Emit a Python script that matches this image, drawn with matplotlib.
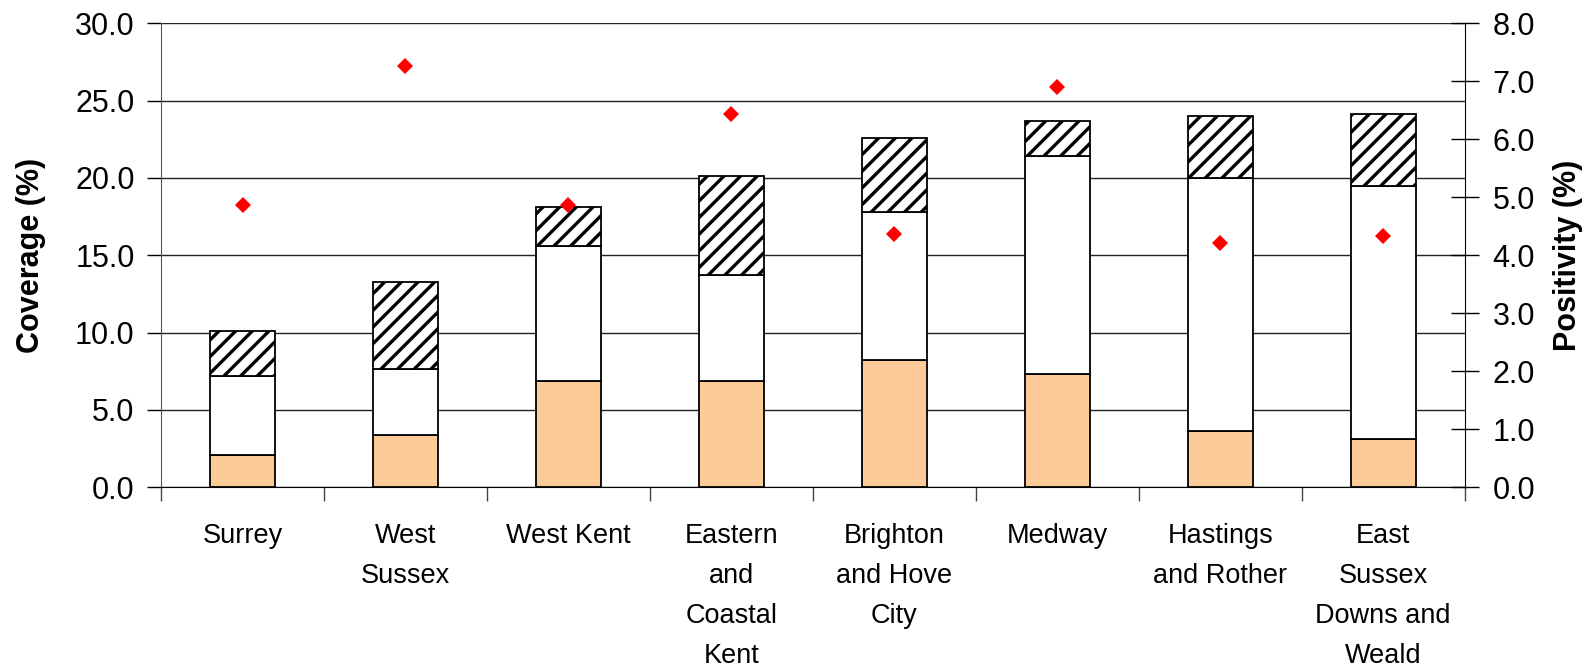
import matplotlib
matplotlib.use("Agg")
import matplotlib.pyplot as plt
import numpy as np

# ── Data ─────────────────────────────────────────────────────────────────────
categories = [
    "Surrey",
    "West\nSussex",
    "West Kent",
    "Eastern\nand\nCoastal\nKent",
    "Brighton\nand Hove\nCity",
    "Medway",
    "Hastings\nand Rother",
    "East\nSussex\nDowns and\nWeald",
]
# cumulative tops (coverage %)
orange_top = [2.1, 3.35, 6.9, 6.9, 8.2, 7.3, 3.65, 3.1]
white_top = [7.2, 7.65, 15.6, 13.7, 17.8, 21.45, 20.0, 19.5]
hatch_top = [10.1, 13.3, 18.15, 20.15, 22.6, 23.7, 24.0, 24.15]
positivity = [4.87, 7.26, 4.87, 6.44, 4.37, 6.91, 4.22, 4.34]

# ── Style ────────────────────────────────────────────────────────────────────
plt.rcParams["font.family"] = ["Liberation Sans", "DejaVu Sans"]
plt.rcParams["hatch.linewidth"] = 2.4
plt.rcParams["hatch.color"] = "black"

ORANGE = "#FDCB98"
EDGE_LW = 1.3

fig = plt.figure(figsize=(15.9, 6.72), dpi=100)
ax = fig.add_axes([0.1013, 0.2749, 0.9212 - 0.1013, 0.9653 - 0.2749])

x = np.arange(len(categories))
w = 0.4
white_h = np.array(white_top) - np.array(orange_top)
hatch_h = np.array(hatch_top) - np.array(white_top)

ax.bar(x, orange_top, w, color=ORANGE, edgecolor="black", lw=EDGE_LW, zorder=3)
ax.bar(x, white_h, w, bottom=orange_top, color="white", edgecolor="black", lw=EDGE_LW, zorder=3)
ax.bar(x, hatch_h, w, bottom=white_top, color="white", edgecolor="black", lw=EDGE_LW,
       hatch="//", zorder=3)

ax.set_xlim(-0.5, len(categories) - 0.5)
ax.set_ylim(0, 30)
ax.set_yticks(np.arange(0, 31, 5))
ax.set_yticklabels([f"{v:.1f}" for v in np.arange(0, 31, 5)])
ax.yaxis.grid(True, color="#222222", lw=1.0, zorder=0)
ax.set_axisbelow(True)

ax.set_xticks(x)
ax.set_xticklabels(categories, fontsize=19.5, linespacing=1.7, va="top")
ax.tick_params(axis="x", length=0, pad=26)
ax.set_xticks(np.arange(-0.5, len(categories), 1), minor=True)
ax.tick_params(axis="x", which="minor", length=10, width=1, color="#444444", direction="out")
ax.tick_params(axis="y", labelsize=22, length=10, width=1, direction="out", pad=9)

for s in ["top", "right"]:
    ax.spines[s].set_visible(False)
ax.spines["left"].set_color("#555555")
ax.spines["bottom"].set_color("black")

ax.set_ylabel("Coverage (%)", fontsize=22, fontweight="bold")
ax.yaxis.set_label_coords(-0.088, 0.5)

# Secondary axis: positivity
ax2 = ax.twinx()
ax2.plot(x, positivity, "D", color="#FF0000", markersize=8, markeredgewidth=0, zorder=5)
ax2.set_ylim(0, 8)
ax2.set_yticks(np.arange(0, 9, 1))
ax2.set_yticklabels([f"{v:.1f}" for v in np.arange(0, 9, 1)])
ax2.tick_params(axis="y", labelsize=22, length=20, width=1, direction="inout", pad=10)
for s in ["top", "left", "bottom"]:
    ax2.spines[s].set_visible(False)
ax2.spines["right"].set_color("black")
ax2.set_ylabel("Positivity (%)", fontsize=22, fontweight="bold")
ax2.yaxis.set_label_coords(1.068, 0.5)

fig.savefig("out.png", dpi=100)
